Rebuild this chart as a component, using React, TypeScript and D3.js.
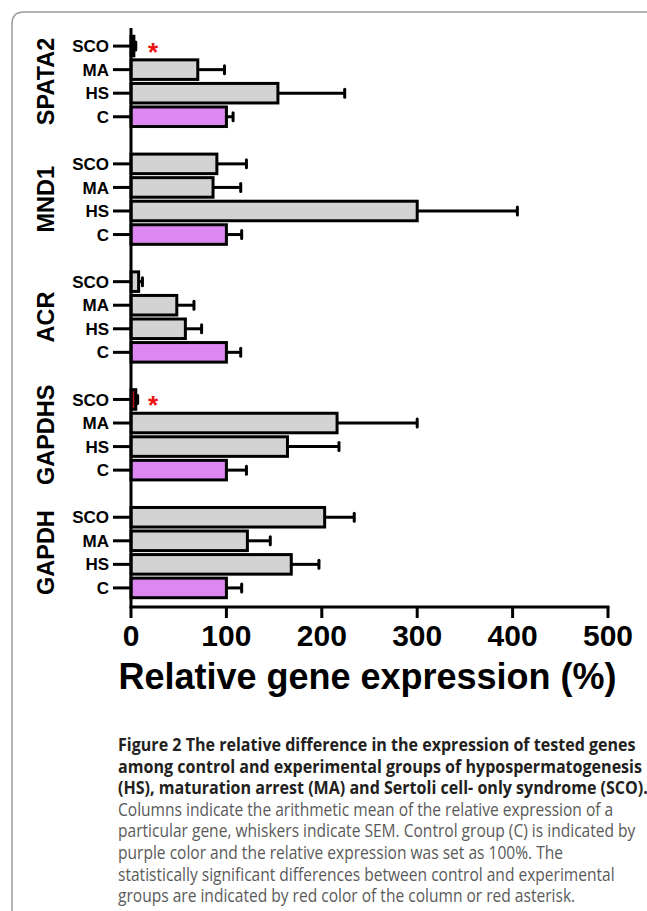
import React from 'react';
import * as d3 from 'd3';

// genes top to bottom, groups inside each gene top to bottom
const genes = ['SPATA2', 'MND1', 'ACR', 'GAPDHS', 'GAPDH'];
const groups = ['SCO', 'MA', 'HS', 'C'];

// mean relative expression (%) per gene, in the order of groups
const spata2Mean = [3, 70, 154, 100];
const mnd1Mean = [90, 86, 300, 100];
const acrMean = [8, 48, 57, 100];
const gapdhsMean = [5, 216, 164, 100];
const gapdhMean = [203, 122, 168, 100];

// SEM whiskers
const spata2Sem = [2, 28, 70, 7];
const mnd1Sem = [31, 29, 105, 16];
const acrSem = [4, 18, 17, 15];
const gapdhsSem = [2, 84, 54, 21];
const gapdhSem = [31, 24, 29, 16];

const meansByGene = [spata2Mean, mnd1Mean, acrMean, gapdhsMean, gapdhMean];
const semsByGene = [spata2Sem, mnd1Sem, acrSem, gapdhsSem, gapdhSem];

const xTicks = [0, 100, 200, 300, 400, 500];
const redBars = ['GAPDHS|SCO'];
const asterisks = ['SPATA2|SCO', 'GAPDHS|SCO'];

const captionBold = [
  'Figure 2 The relative difference in the expression of tested genes',
  'among control and experimental groups of hypospermatogenesis',
  '(HS), maturation arrest (MA) and Sertoli cell- only syndrome (SCO).',
];
const captionText = [
  'Columns indicate the arithmetic mean of the relative expression of a',
  'particular gene, whiskers indicate SEM. Control group (C) is indicated by',
  'purple color and the relative expression was set as 100%. The',
  'statistically significant differences between control and experimental',
  'groups are indicated by red color of the column or red asterisk.',
];

const capFont = '"Open Sans", "Noto Sans", sans-serif';
const capSize = 18.5;

// horizontal squeeze so the caption matches the narrow face of the original
function squeeze(text: string, weight: number, target: number) {
  if (typeof document === 'undefined') return 0.85;
  const ctx = document.createElement('canvas').getContext('2d');
  if (!ctx) return 0.85;
  ctx.font = `${weight} ${capSize}px "Open Sans"`;
  const w = ctx.measureText(text).width;
  return w > 0 ? target / w : 0.85;
}

export default function App() {
  const width = 647;
  const height = 911;

  // row keys incl. spacer rows between genes
  const rowKeys: string[] = [];
  genes.forEach((g, i) => {
    groups.forEach(k => rowKeys.push(`${g}|${k}`));
    if (i < genes.length - 1) rowKeys.push(`gap${i}`);
  });

  const y = d3.scaleBand().domain(rowKeys).range([36.3, 597.7]).paddingInner(0.17);
  const x = d3.scaleLinear().domain([0, 500]).range([131, 608]);
  const axisY = 607;

  const rows = genes.flatMap((g, gi) =>
    groups.map((k, ki) => ({
      gene: g,
      group: k,
      key: `${g}|${k}`,
      mean: meansByGene[gi][ki],
      sem: semsByGene[gi][ki],
    }))
  );

  const font = 'Liberation Sans, Arial, Helvetica, sans-serif';
  const cy = (key: string) => (y(key) ?? 0) + y.bandwidth() / 2;

  const fill = (r: { key: string; group: string }) =>
    redBars.includes(r.key) ? '#b3141b' : r.group === 'C' ? '#dd88f2' : '#d3d3d3';

  const sxBold = squeeze(captionBold[0], 700, 518);
  const sxText = squeeze(captionText[1], 400, 518);
  const capX = 118;

  return (
    <svg width={width} height={height} style={{ position: 'absolute', left: 0, top: 0 }}>
      <rect width={width} height={height} fill="#fff" />
      {/* frame */}
      <path d={`M12,${height + 5} L12,24 Q12,12 24,12 L${width + 5},12`} fill="none" stroke="#9a9a9a" strokeWidth={1.5} />

      {/* bars */}
      {rows.map(r => (
        <g key={r.key}>
          <line x1={x(r.mean)} x2={x(r.mean + r.sem)} y1={cy(r.key)} y2={cy(r.key)} stroke="#000" strokeWidth={3} />
          <line x1={x(r.mean + r.sem)} x2={x(r.mean + r.sem)} y1={cy(r.key) - 4} y2={cy(r.key) + 4} stroke="#000" strokeWidth={3} strokeLinecap="round" />
          <rect
            x={x(0)}
            y={y(r.key)}
            width={x(r.mean) - x(0)}
            height={y.bandwidth()}
            fill={fill(r)}
            stroke="#000"
            strokeWidth={3}
          />
        </g>
      ))}

      {/* asterisks */}
      {asterisks.map(k => (
        <text key={k} x={153} y={cy(k) + 15} textAnchor="middle" fontFamily={font} fontWeight="bold" fontSize={26} fill="#ee1111">*</text>
      ))}

      {/* y axis */}
      <line x1={131} x2={131} y1={28} y2={axisY} stroke="#000" strokeWidth={3} />
      {rows.map(r => (
        <g key={`t-${r.key}`}>
          <line x1={113} x2={131} y1={cy(r.key)} y2={cy(r.key)} stroke="#000" strokeWidth={3} />
          <text x={109} y={cy(r.key)} dy="0.36em" textAnchor="end" fontFamily={font} fontWeight="bold" fontSize={17} fill="#000">{r.group}</text>
        </g>
      ))}
      {genes.map(g => {
        const mid = (cy(`${g}|SCO`) + cy(`${g}|C`)) / 2;
        return (
          <text key={g} transform={`translate(54,${mid}) rotate(-90)`} textAnchor="middle" fontFamily={font} fontWeight="bold" fontSize={23.5} fill="#000">{g}</text>
        );
      })}

      {/* x axis */}
      <line x1={x(0) - 1.5} x2={x(500) + 1.5} y1={axisY} y2={axisY} stroke="#000" strokeWidth={3} />
      {xTicks.map(t => (
        <g key={t}>
          <line x1={x(t)} x2={x(t)} y1={axisY} y2={axisY + 11} stroke="#000" strokeWidth={3} />
          <text x={x(t)} y={646} textAnchor="middle" fontFamily={font} fontWeight="bold" fontSize={30} fill="#000">{t}</text>
        </g>
      ))}
      <text x={367.5} y={689} textAnchor="middle" fontFamily={font} fontWeight="bold" fontSize={36} fill="#000">Relative gene expression (%)</text>

      {/* caption */}
      {captionBold.concat(captionText).map((line, i) => {
        const bold = i < captionBold.length;
        const sx = bold ? sxBold : sxText;
        return (
          <text
            key={i}
            transform={`translate(${capX},${751 + i * 21.6}) scale(${sx},1)`}
            fontFamily={capFont}
            fontWeight={bold ? 700 : 400}
            fontSize={capSize}
            fill={bold ? '#231f20' : '#5a5a5a'}
          >
            {line}
          </text>
        );
      })}
    </svg>
  );
}
